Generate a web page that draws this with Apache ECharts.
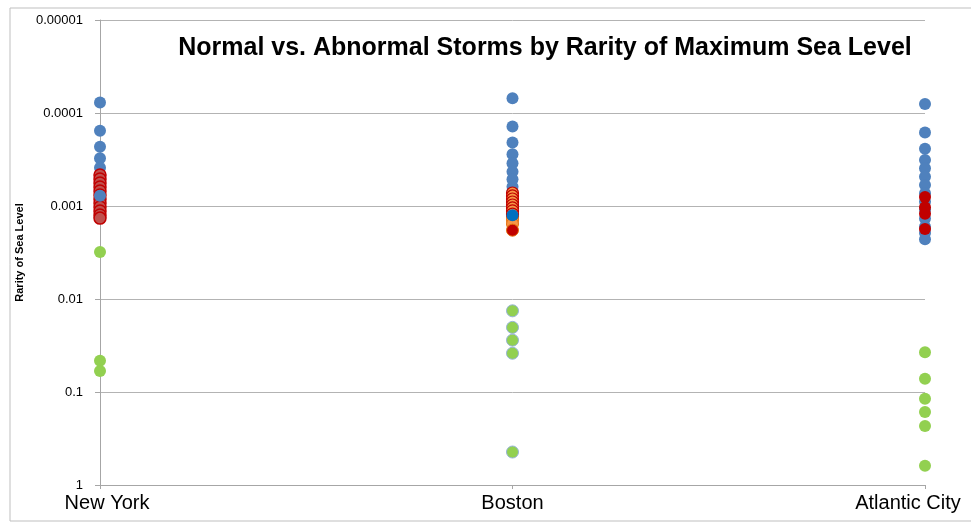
<!DOCTYPE html>
<html>
<head>
<meta charset="utf-8">
<script src="https://cdn.jsdelivr.net/npm/echarts@6/dist/echarts.min.js"></script>
<style>html,body{margin:0;padding:0;background:#fff}#c{width:971px;height:523px}</style>
</head>
<body>
<div id="c"></div>
<script>
const categories = ['New York', 'Boston', 'Atlantic City'];
const yTickLabels = ['0.00001', '0.0001', '0.001', '0.01', '0.1', '1'];

// New York
const nyNormal = [7.7e-5, 1.55e-4, 2.30e-4, 3.07e-4, 3.87e-4];
const nyAbnormal = [4.64e-4, 5.12e-4, 5.66e-4, 6.25e-4, 6.90e-4, 7.62e-4, 8.41e-4, 9.29e-4, 1.026e-3, 1.13e-3, 1.25e-3, 1.35e-3];
const nyNormalLate = [7.74e-4];
const nyLow = [3.13e-3, 0.046, 0.0595];

// Boston
const bosNormal = [6.95e-5, 1.40e-4, 2.08e-4, 2.78e-4, 3.47e-4, 4.28e-4, 5.16e-4, 6.20e-4, 7.02e-4];
const bosAbnormalRing = [7.25e-4, 7.80e-4, 8.41e-4, 9.06e-4, 9.75e-4, 1.05e-3, 1.13e-3, 1.22e-3];
const bosAbnormalOrange = [1.31e-3, 1.42e-3, 1.56e-3];
const bosHighlightBlue = [1.26e-3];
const bosHighlightRed = [1.82e-3];
const bosLow = [0.0134, 0.0202, 0.0277, 0.0383, 0.442];

// Atlantic City
const acNormal = [8.0e-5, 1.62e-4, 2.42e-4, 3.20e-4, 3.93e-4, 4.84e-4, 5.95e-4, 7.30e-4, 8.99e-4, 1.10e-3, 1.36e-3, 1.67e-3, 1.95e-3, 2.28e-3];
const acAbnormal = [8.0e-4, 1.03e-3, 1.21e-3, 1.77e-3];
const acLow = [0.0374, 0.0719, 0.118, 0.164, 0.232, 0.620];

function pts(cat, arr) { return arr.map(v => [cat, v]); }
function sc(name, data, color, border, bw) {
  return {
    name: name, type: 'scatter', data: data, symbolSize: 12,
    itemStyle: { color: color, borderColor: border || color, borderWidth: bw || 0, opacity: 1 },
    emphasis: { disabled: true }
  };
}

const chart = echarts.init(document.getElementById('c'), null, { renderer: 'canvas' });
chart.setOption({
  animation: false,
  backgroundColor: '#fff',
  graphic: [
    { type: 'rect', x: 10, y: 8, shape: { x: 0, y: 0, width: 962, height: 513 }, style: { fill: 'none', stroke: '#BFBFBF', lineWidth: 1 }, z: -1 },
    { type: 'text', x: 545, y: 48, style: { text: 'Normal vs. Abnormal Storms by Rarity of Maximum Sea Level', font: 'bold 25px "Liberation Sans", Arial, sans-serif', fill: '#000', textAlign: 'center', textVerticalAlign: 'middle' } }
  ],
  grid: { left: 100, right: 46, top: 20, bottom: 38, containLabel: false },
  xAxis: {
    type: 'category',
    boundaryGap: false,
    data: categories.map((c, i) => ({
      value: c,
      textStyle: i === 0 ? { padding: [0, 0, 0, 14] } : (i === 2 ? { padding: [0, 34, 0, 0] } : {})
    })),
    axisLine: { lineStyle: { color: '#A6A6A6', width: 1 } },
    axisTick: { show: true, length: 4, lineStyle: { color: '#A6A6A6' } },
    axisLabel: { fontSize: 20, color: '#000', margin: 8, fontFamily: '"Liberation Sans", Arial, sans-serif', interval: 0 },
    splitLine: { show: false }
  },
  yAxis: {
    type: 'log',
    logBase: 10,
    min: 0.00001,
    max: 1,
    inverse: true,
    name: 'Rarity of Sea Level',
    nameLocation: 'middle',
    nameGap: 68,
    nameTextStyle: { fontSize: 11, fontWeight: 'bold', color: '#000', fontFamily: '"Liberation Sans", Arial, sans-serif' },
    axisLine: { show: true, lineStyle: { color: '#A6A6A6', width: 1 } },
    axisTick: { show: true, length: 5, lineStyle: { color: '#A6A6A6' } },
    axisLabel: {
      fontSize: 13, color: '#000', margin: 17, fontFamily: '"Liberation Sans", Arial, sans-serif',
      formatter: function (v) { const i = Math.round(Math.log10(v)) + 5; return yTickLabels[i] !== undefined ? yTickLabels[i] : ''; }
    },
    splitLine: { show: true, lineStyle: { color: '#B3B3B3', width: 1 } },
    minorTick: { show: false }
  },
  series: [
    sc('NY normal', pts(0, nyNormal), '#4F81BD'),
    sc('NY abnormal', pts(0, nyAbnormal), '#C0504D', '#C00000', 1.5),
    sc('NY normal late', pts(0, nyNormalLate), '#4F81BD'),
    sc('NY low', pts(0, nyLow), '#92D050'),
    sc('BOS normal', pts(1, bosNormal), '#4F81BD'),
    sc('BOS abnormal orange', pts(1, bosAbnormalOrange), '#F79646', '#E46C0A', 1),
    sc('BOS abnormal ring', pts(1, bosAbnormalRing), '#F79646', '#C00000', 1.2),
    sc('BOS blue', pts(1, bosHighlightBlue), '#0070C0'),
    sc('BOS red', pts(1, bosHighlightRed), '#C00000', '#E46C0A', 1),
    sc('BOS low', pts(1, bosLow), '#92D050', '#95B3D7', 1),
    sc('AC normal', pts(2, acNormal), '#4F81BD'),
    sc('AC abnormal', pts(2, acAbnormal), '#C00000'),
    sc('AC low', pts(2, acLow), '#92D050')
  ]
});
</script>
</body>
</html>
